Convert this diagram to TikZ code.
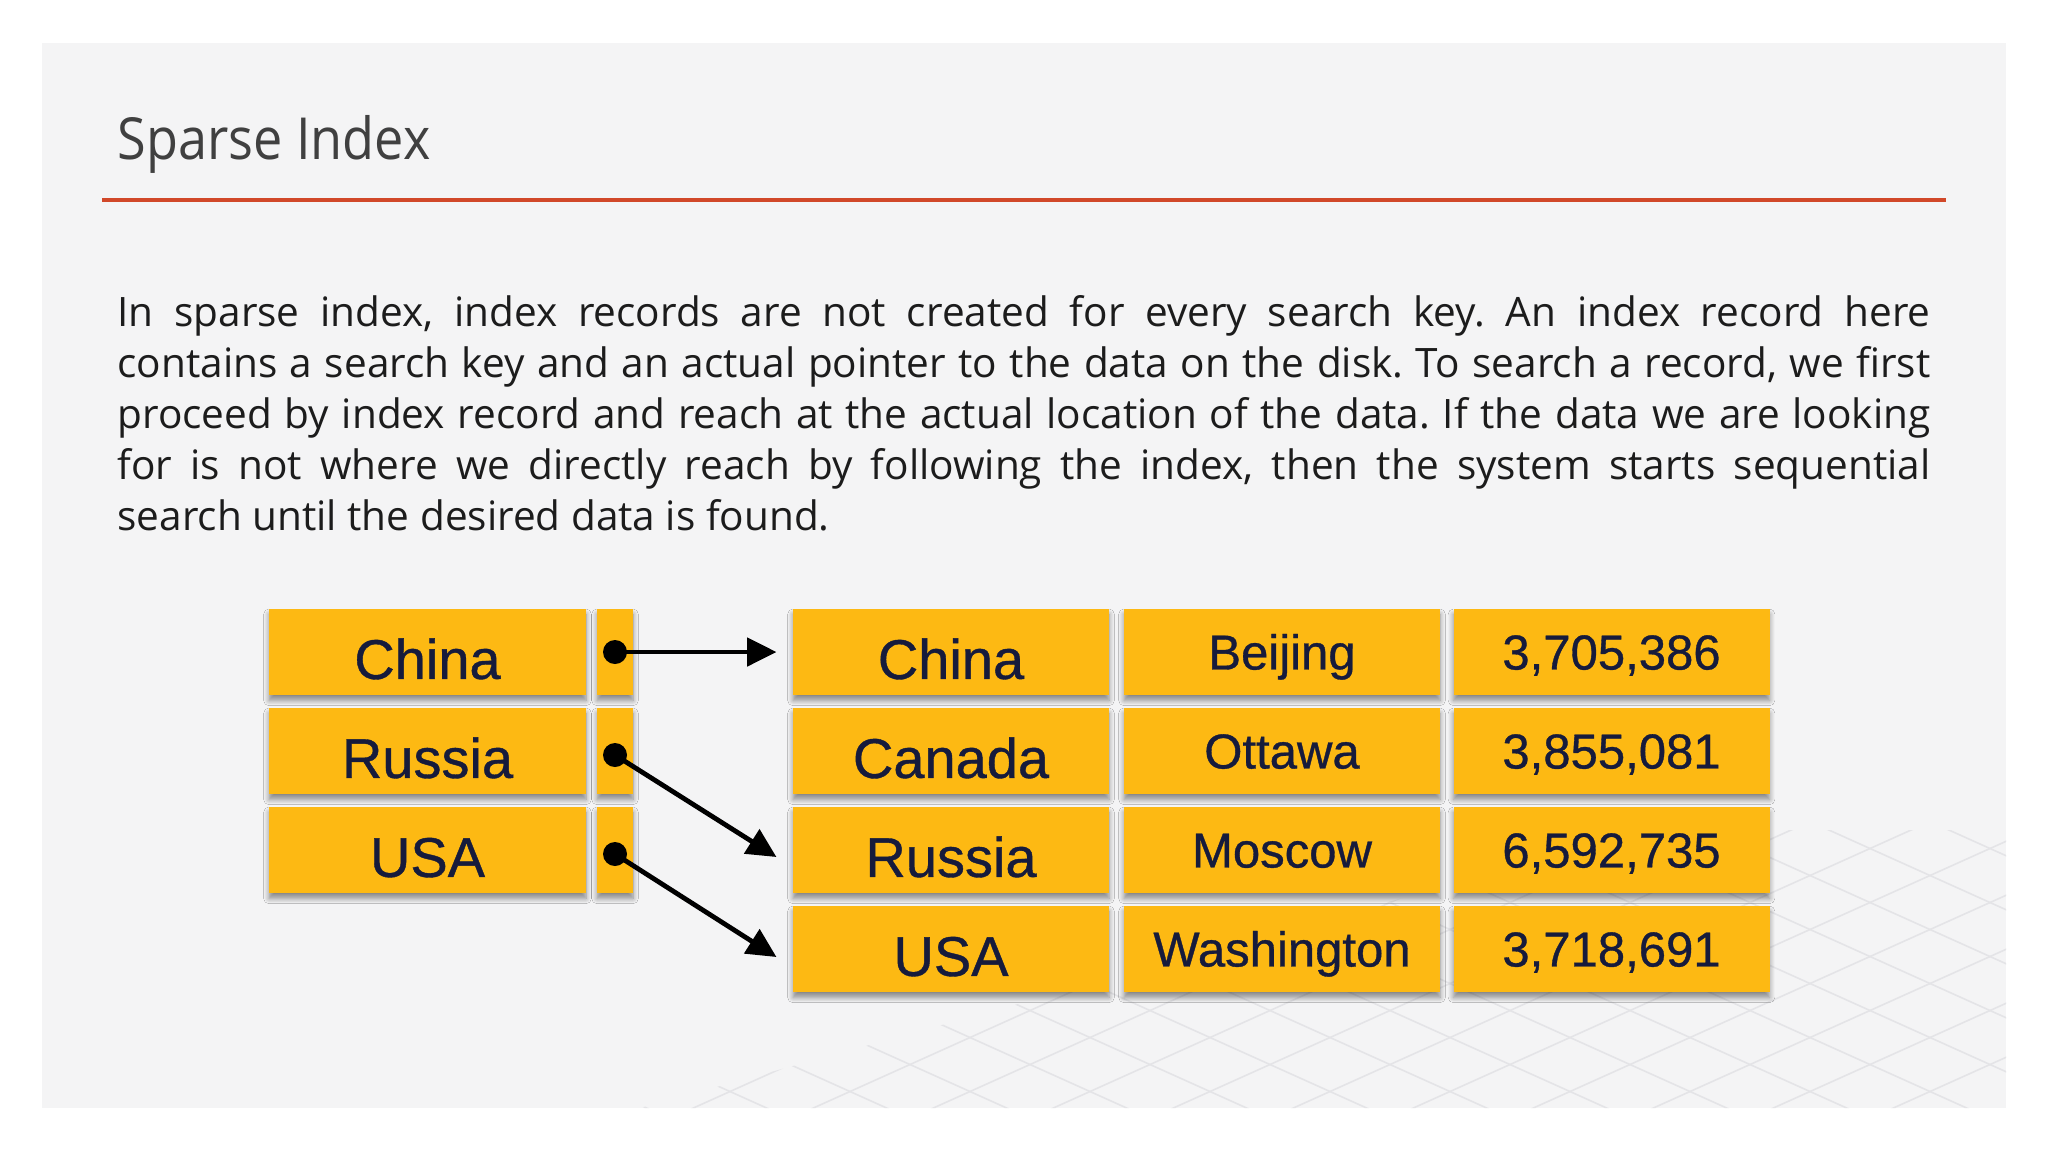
\documentclass[tikz,border=0pt]{standalone}
\usepackage{fontspec}
\usepackage{graphicx}
\setmainfont{Open Sans}
\newfontfamily\boxfont[FakeBold=0.7]{Liberation Sans}
\usetikzlibrary{arrows.meta,shadows,shadows.blur}
\newcommand\pxu{0.375pt}
\newlength\parw
\setlength\parw{679.875pt}
\definecolor{slidegray}{RGB}{244,244,245}
\definecolor{gridgray}{RGB}{228,228,231}
\definecolor{titlegray}{RGB}{64,64,64}
\definecolor{redline}{RGB}{209,72,41}
\definecolor{bodytext}{RGB}{28,28,28}
\definecolor{boxfill}{RGB}{253,185,19}
\definecolor{boxtext}{RGB}{22,27,60}
\frenchspacing
\begin{document}
\begin{tikzpicture}[x=0.375pt,y=-0.375pt,
  cell/.style={rectangle, fill=boxfill, inner sep=0pt, minimum height=86*\pxu,
    blur shadow={shadow xshift=0pt, shadow yshift=-2pt, shadow blur radius=2pt,
      shadow blur steps=6, shadow opacity=45},
    text=boxtext},
  country/.style={cell, minimum width=317*\pxu,
    font=\boxfont\fontsize{21pt}{21pt}\selectfont, text height=15pt, text depth=0pt},
  datacell/.style={cell, minimum width=316*\pxu,
    font=\boxfont\fontsize{18.4pt}{18.4pt}\selectfont, text height=13.1pt, text depth=0pt},
  ptrcell/.style={cell, minimum width=36*\pxu},
  dotnode/.style={circle, fill=black, inner sep=0pt, minimum size=24*\pxu},
  ptr/.style={line width=1.8pt, -{Triangle[length=11pt,width=10.5pt]}},
  para/.style={anchor=base west, inner sep=0pt, text=bodytext,
    font=\fontsize{15.2pt}{19pt}\selectfont}]
% background
\fill[white] (0,0) rectangle (2048,1152);
\fill[slidegray] (42,43) rectangle (2006,1108);
% faint floor grid
\begin{scope}
  \clip (640,1108) -- (2006,1108) -- (2006,830) -- (1650,830) -- cycle;
  \foreach \a in {400,520,...,3300} {
    \draw[gridgray, line width=0.6pt] (\a,700) -- ++(-1000,450);
    \draw[gridgray, line width=0.6pt] (\a-1500,700) -- ++(1000,450);
  }
\end{scope}
% title and rule
\node[anchor=base west, inner sep=0pt, text=titlegray,
  font=\fontsize{21.75pt}{26pt}\selectfont] (title) at (117,159) {\scalebox{0.9}[1]{Sparse Index}};
\draw[redline, line width=1.5pt] (102,200) -- (1946,200);
% paragraph
\node[para] (l1) at (117,326) {\makebox[\parw][s]{In sparse index, index records are not created for every search key. An index record here}};
\node[para] (l2) at (117,377) {\makebox[\parw][s]{contains a search key and an actual pointer to the data on the disk. To search a record, we first}};
\node[para] (l3) at (117,428) {\makebox[\parw][s]{proceed by index record and reach at the actual location of the data. If the data we are looking}};
\node[para] (l4) at (117,479) {\makebox[\parw][s]{for is not where we directly reach by following the index, then the system starts sequential}};
\node[para] (l5) at (117,530) {search until the desired data is found.};
% index
\node[country] (i1) at (427.5,652) {\raisebox{-2.6pt}{China}};
\node[country] (i2) at (427.5,751) {\raisebox{-2.6pt}{Russia}};
\node[country] (i3) at (427.5,850) {\raisebox{-2.6pt}{USA}};
\node[ptrcell] (p1) at (615,652) {};
\node[ptrcell] (p2) at (615,751) {};
\node[ptrcell] (p3) at (615,850) {};
% data table
\node[country, minimum width=316*\pxu] (d11) at (951,652) {\raisebox{-2.6pt}{China}};
\node[datacell] (d12) at (1282,652) {Beijing};
\node[datacell] (d13) at (1611.5,652) {3,705,386};
\node[country, minimum width=316*\pxu] (d21) at (951,751) {\raisebox{-2.6pt}{Canada}};
\node[datacell] (d22) at (1282,751) {Ottawa};
\node[datacell] (d23) at (1611.5,751) {3,855,081};
\node[country, minimum width=316*\pxu] (d31) at (951,850) {\raisebox{-2.6pt}{Russia}};
\node[datacell] (d32) at (1282,850) {Moscow};
\node[datacell] (d33) at (1611.5,850) {6,592,735};
\node[country, minimum width=316*\pxu] (d41) at (951,949) {\raisebox{-2.6pt}{USA}};
\node[datacell] (d42) at (1282,949) {Washington};
\node[datacell] (d43) at (1611.5,949) {3,718,691};
% pointers
\node[dotnode] (dot1) at (p1.center) {};
\node[dotnode] (dot2) at ([yshift=-4*\pxu]p2.center) {};
\node[dotnode] (dot3) at ([yshift=-4*\pxu]p3.center) {};
\draw[ptr] (dot1.center) -- ([xshift=-16*\pxu]d11.west);
\draw[ptr] (dot2.center) -- ([xshift=-16*\pxu,yshift=-7*\pxu]d31.west);
\draw[ptr] (dot3.center) -- ([xshift=-16*\pxu,yshift=-8*\pxu]d41.west);
\end{tikzpicture}
\end{document}
